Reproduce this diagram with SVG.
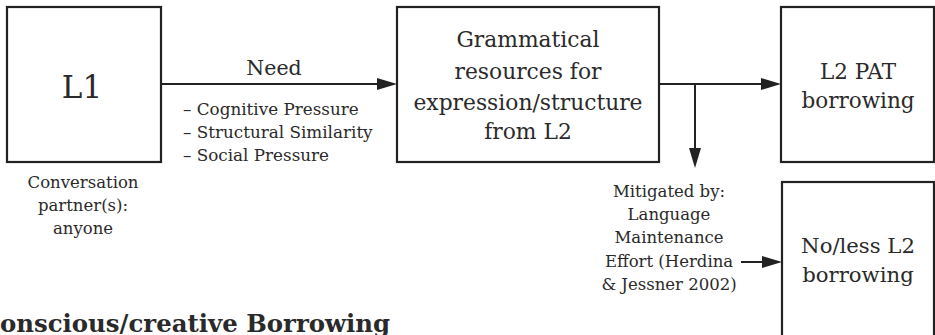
<svg xmlns="http://www.w3.org/2000/svg" width="935" height="335" viewBox="0 0 935 335">
<style>
.box{fill:#fff;stroke:#222;stroke-width:2.2}
.ln{fill:none;stroke:#222;stroke-width:2}
text{font-family:"DejaVu Serif","Liberation Serif",serif;fill:#2a2a2a;text-anchor:middle}
.l1{font-size:31px}
.big{font-size:21.8px}
.pat{font-size:21.5px}
.nol{font-size:21.2px}
.sm{font-size:16.5px}
.lbl{font-size:20.5px}
.bl{text-anchor:start;font-size:16.8px}
.title{text-anchor:start;font-size:24.4px;font-weight:bold}
</style>
<defs>
<marker id="ah" viewBox="0 0 20 12" refX="17" refY="6" markerWidth="20" markerHeight="12" markerUnits="userSpaceOnUse" orient="auto">
<path d="M0,0 L20,6 L0,12 z" fill="#222"/>
</marker>
</defs>
<rect width="935" height="335" fill="#fff"/>
<g id="connectors">
<line class="ln" x1="161" y1="84" x2="394" y2="84" marker-end="url(#ah)"/>
<line class="ln" x1="659" y1="84" x2="778" y2="84" marker-end="url(#ah)"/>
<line class="ln" x1="695" y1="84" x2="695" y2="165" marker-end="url(#ah)"/>
<line class="ln" x1="741" y1="262" x2="779" y2="262" marker-end="url(#ah)"/>
<text class="lbl" x="274" y="75">Need</text>
<text class="bl" x="183" y="115">– Cognitive Pressure</text>
<text class="bl" x="183" y="138">– Structural Similarity</text>
<text class="bl" x="183" y="161">– Social Pressure</text>
</g>
<g id="L1">
<rect class="box" x="7" y="7" width="154" height="155"/>
<text class="l1" x="82" y="98">L1</text>
</g>
<g id="partner">
<text class="sm" x="83" y="188">Conversation</text>
<text class="sm" x="83" y="211">partner(s):</text>
<text class="sm" x="83" y="234">anyone</text>
</g>
<g id="grammatical">
<rect class="box" x="397" y="7" width="262" height="155"/>
<text class="big" x="528" y="47">Grammatical</text>
<text class="big" x="528" y="79">resources for</text>
<text class="big" x="528" y="110">expression/structure</text>
<text class="big" x="528" y="139">from L2</text>
</g>
<g id="pat">
<rect class="box" x="781" y="7" width="153" height="155"/>
<text class="pat" x="858" y="79">L2 PAT</text>
<text class="pat" x="858" y="108">borrowing</text>
</g>
<g id="mitigated">
<text class="sm" x="669" y="197">Mitigated by:</text>
<text class="sm" x="669" y="220">Language</text>
<text class="sm" x="669" y="243">Maintenance</text>
<text class="sm" x="669" y="267">Effort (Herdina</text>
<text class="sm" x="669" y="290">&amp; Jessner 2002)</text>
</g>
<g id="noless">
<rect class="box" x="782" y="182" width="152" height="175"/>
<text class="nol" x="858" y="253">No/less L2</text>
<text class="nol" x="858" y="282">borrowing</text>
</g>
<text class="title" x="0" y="332">onscious/creative Borrowing</text>
</svg>
